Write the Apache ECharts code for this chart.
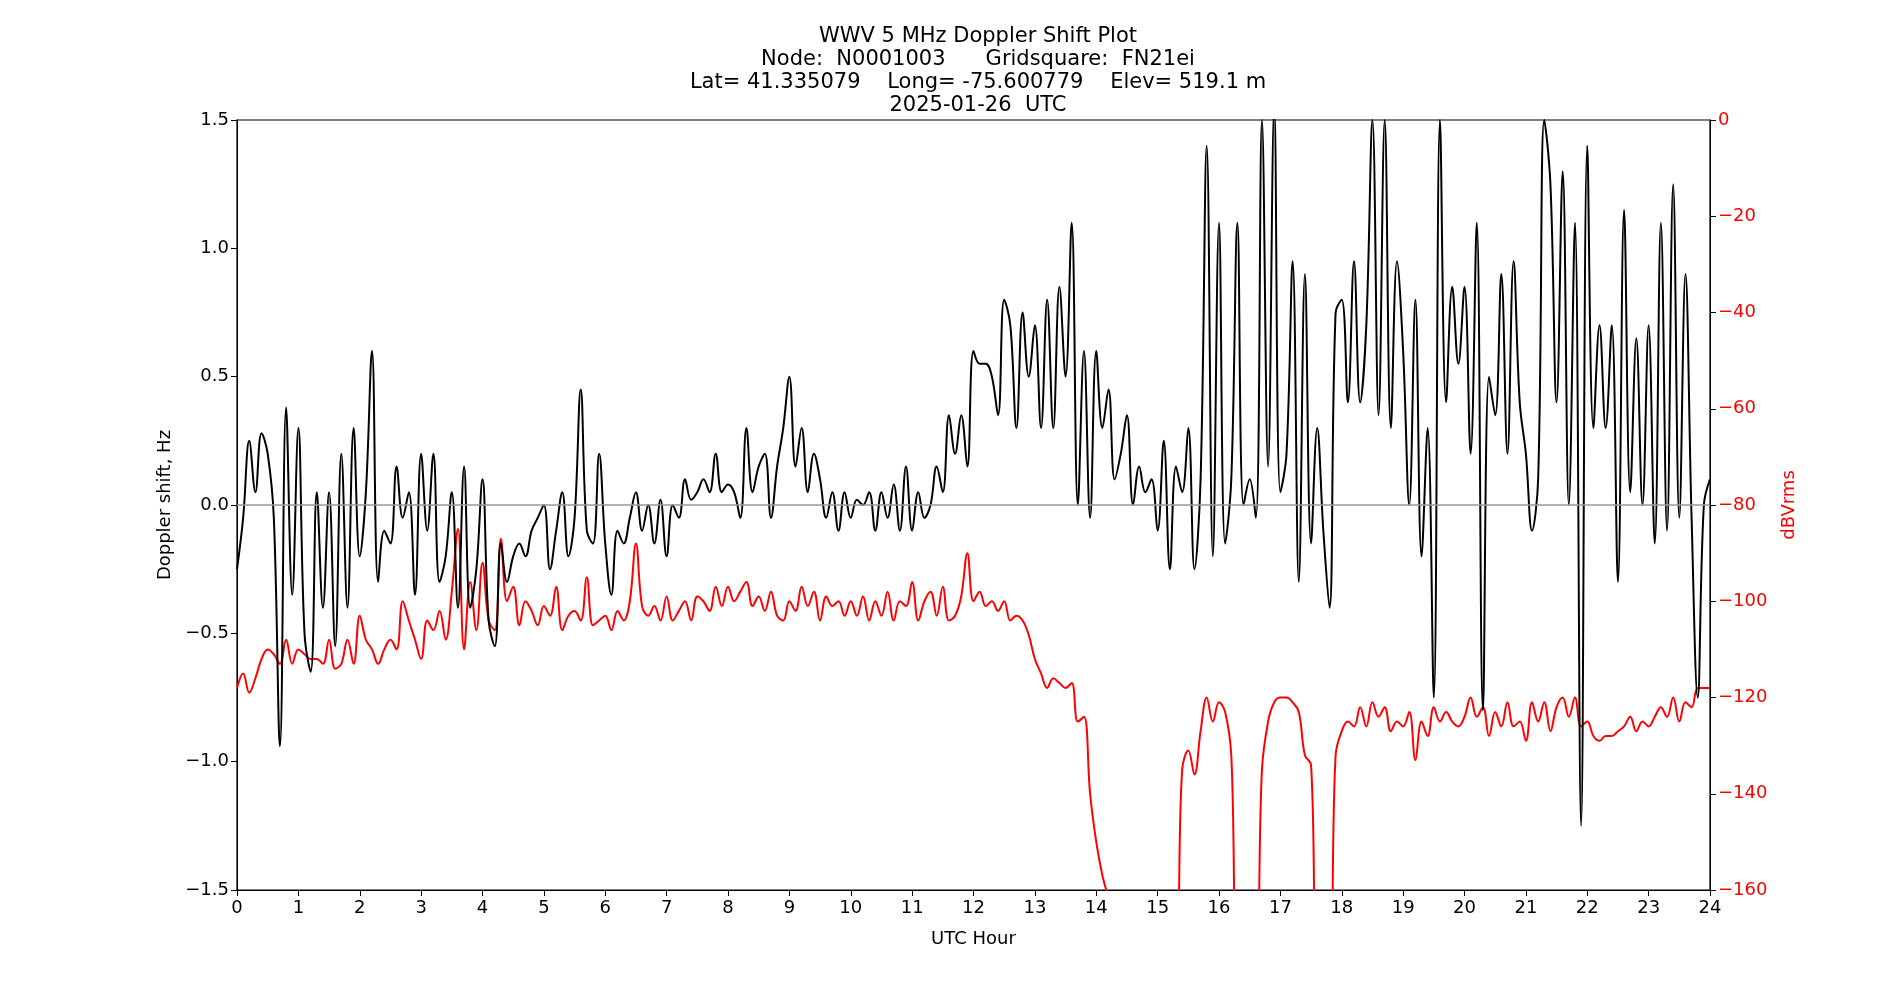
<!DOCTYPE html>
<html><head><meta charset="utf-8">
<script src="https://cdn.jsdelivr.net/npm/echarts@6/dist/echarts.min.js"></script>
<style>html,body{margin:0;background:#fff}#c{width:1900px;height:1000px}</style>
</head><body><div id="c"></div>
<script>
const hours = Array.from({length:241},(_, i)=> +(i*0.1).toFixed(1));
const doppler = [
-0.25,-0.05,0.25,0.05,0.28,0.2,-0.05,-0.94,0.38,-0.35,
0.3,-0.5,-0.65,0.05,-0.4,0.05,-0.55,0.2,-0.4,0.3,
-0.2,0.05,0.6,-0.3,-0.1,-0.15,0.15,-0.05,0.05,-0.35,
0.2,-0.1,0.2,-0.3,-0.2,0.05,-0.4,0.15,-0.4,-0.25,
0.1,-0.45,-0.55,-0.15,-0.3,-0.2,-0.15,-0.2,-0.1,-0.05,
0.0,-0.25,-0.1,0.05,-0.2,-0.05,0.45,-0.1,-0.15,0.2,
-0.15,-0.35,-0.1,-0.15,-0.05,0.05,-0.1,0.0,-0.15,0.02,
-0.2,0.0,-0.05,0.1,0.02,0.05,0.1,0.05,0.2,0.05,
0.08,0.05,-0.05,0.3,0.05,0.15,0.2,-0.05,0.15,0.3,
0.5,0.15,0.3,0.05,0.2,0.1,-0.05,0.05,-0.1,0.05,
-0.05,0.02,0.0,0.05,-0.1,0.05,-0.05,0.08,-0.1,0.15,
-0.1,0.05,-0.05,0.0,0.15,0.05,0.35,0.2,0.35,0.15,
0.6,0.55,0.55,0.5,0.35,0.8,0.7,0.3,0.75,0.5,
0.7,0.3,0.8,0.3,0.85,0.5,1.1,0.0,0.6,-0.05,
0.6,0.3,0.45,0.1,0.2,0.35,0.0,0.15,0.05,0.1,
-0.1,0.25,-0.25,0.15,0.05,0.3,-0.25,0.1,1.4,-0.2,
1.1,-0.15,0.1,1.1,0.0,0.1,-0.05,1.5,0.15,1.55,
0.05,0.2,0.95,-0.3,0.9,-0.15,0.3,-0.1,-0.4,0.75,
0.8,0.4,0.95,0.4,0.7,1.5,0.35,1.5,0.3,0.95,
0.6,0.0,0.8,-0.2,0.3,-0.75,1.5,0.4,0.85,0.55,
0.85,0.2,1.1,-0.8,0.5,0.35,0.9,0.2,0.95,0.4,
0.2,-0.1,0.1,1.5,1.25,0.4,1.3,0.0,1.1,-1.25,
1.4,0.3,0.7,0.3,0.7,-0.3,1.15,0.05,0.65,0.0,
0.7,-0.15,1.1,-0.1,1.25,-0.05,0.9,-0.05,-0.75,0.0,
0.1];
const signal = [
-118,-115,-119,-116,-112,-110,-111,-113,-108,-113,
-110,-111,-112,-112,-113,-108,-114,-113,-108,-113,
-103,-108,-110,-113,-110,-108,-110,-100,-104,-108,
-112,-104,-106,-102,-108,-98,-85,-110,-96,-106,
-92,-104,-106,-87,-100,-97,-105,-100,-102,-105,
-101,-103,-97,-106,-103,-102,-104,-95,-105,-104,
-103,-106,-102,-104,-100,-88,-101,-103,-101,-104,
-99,-104,-102,-100,-104,-99,-100,-102,-97,-101,
-97,-100,-98,-96,-101,-99,-102,-98,-103,-104,
-100,-102,-97,-101,-98,-104,-99,-101,-100,-103,
-100,-103,-99,-104,-100,-103,-98,-104,-100,-101,
-96,-104,-100,-98,-103,-97,-104,-103,-99,-90,
-100,-98,-101,-100,-102,-100,-104,-103,-104,-107,
-112,-115,-118,-116,-117,-118,-117,-125,-124,-140,
-150,-157,-162,-170,-170,-170,-170,-170,-170,-170,
-170,-170,-170,-170,-135,-131,-136,-127,-120,-125,
-121,-123,-132,-175,-175,-175,-175,-135,-125,-121,
-120,-120,-121,-123,-132,-134,-175,-175,-175,-132,
-127,-125,-126,-122,-126,-121,-124,-122,-127,-125,
-126,-123,-133,-125,-128,-122,-125,-123,-125,-126,
-124,-120,-124,-122,-128,-123,-126,-121,-126,-125,
-129,-121,-125,-121,-127,-122,-120,-124,-120,-126,
-125,-128,-129,-128,-128,-127,-126,-124,-127,-125,
-126,-124,-122,-124,-120,-125,-121,-122,-118,-118,
-118];
const xTicks = [0,1,2,3,4,5,6,7,8,9,10,11,12,13,14,15,16,17,18,19,20,21,22,23,24];
const titleLines = ['WWV 5 MHz Doppler Shift Plot','Node:  N0001003      Gridsquare:  FN21ei','Lat= 41.335079    Long= -75.600779    Elev= 519.1 m','2025-01-26  UTC'];

const F = 'DejaVu Sans';
const minus = s => String(s).replace('-', '\u2212');
const chart = echarts.init(document.getElementById('c'));
chart.setOption({
  animation:false,
  textStyle:{fontFamily:F},
  title:{text:titleLines.join('\n'), left:973, textAlign:'center', top:20,
    textStyle:{fontFamily:F,fontSize:21,fontWeight:'normal',color:'#000',lineHeight:23}},
  grid:{left:237,right:190,top:120,bottom:110,show:true,borderColor:'#000',borderWidth:1.2,backgroundColor:'transparent'},
  xAxis:{type:'value',min:0,max:24,interval:1,name:'UTC Hour',nameLocation:'middle',nameGap:40,
    nameTextStyle:{fontFamily:F,fontSize:18,color:'#000'},
    axisLine:{onZero:false,lineStyle:{color:'#000'}},axisTick:{length:6,lineStyle:{color:'#000'}},
    axisLabel:{fontSize:18,color:'#000',margin:9},splitLine:{show:false}},
  yAxis:[
    {type:'value',min:-1.5,max:1.5,interval:0.5,name:'Doppler shift, Hz',nameLocation:'middle',nameGap:62,
     nameTextStyle:{fontFamily:F,fontSize:18,color:'#000'},
     axisLine:{show:true,lineStyle:{color:'#000'}},axisTick:{show:true,length:6,lineStyle:{color:'#000'}},
     axisLabel:{fontSize:18,color:'#000',formatter:v=>minus(v.toFixed(1))},splitLine:{show:false}},
    {type:'value',min:-160,max:0,interval:20,position:'right',name:'dBVrms',nameLocation:'middle',nameGap:70,
     nameTextStyle:{fontFamily:F,fontSize:18,color:'red'},
     axisLine:{show:true,lineStyle:{color:'#000'}},axisTick:{show:true,length:6,lineStyle:{color:'#000'}},
     axisLabel:{fontSize:18,color:'red',formatter:v=>minus(v)},splitLine:{show:false}}
  ],
  series:[
    {type:'line',yAxisIndex:0,data:hours.map((h,i)=>[h,doppler[i]]),smooth:0.4,showSymbol:false,clip:true,
     lineStyle:{color:'#000',width:2},z:3,
     markLine:{silent:true,symbol:'none',label:{show:false},lineStyle:{color:'#999',type:'solid',width:1.5},data:[{yAxis:0}]}},
    {type:'line',yAxisIndex:1,data:hours.map((h,i)=>[h,signal[i]]),smooth:0.4,showSymbol:false,clip:true,
     lineStyle:{color:'red',width:2},z:2}
  ]
});
</script></body></html>
